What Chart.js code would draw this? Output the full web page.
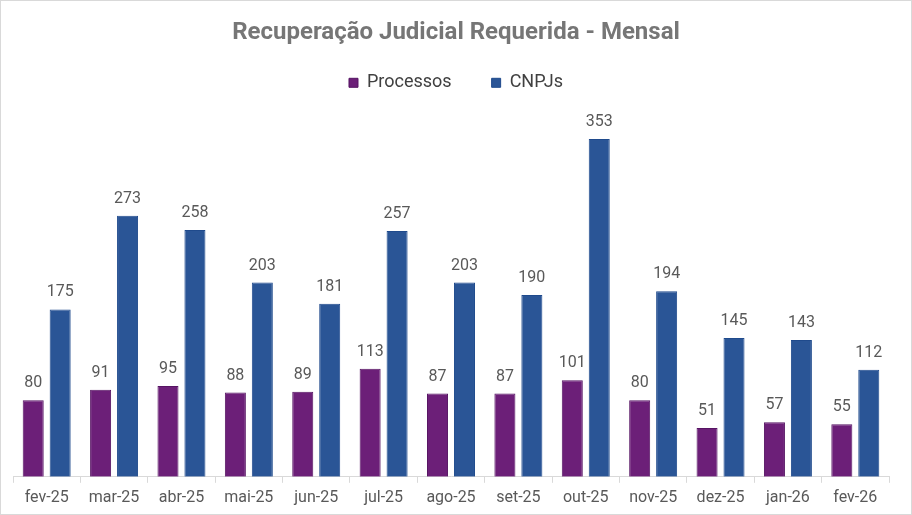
<!DOCTYPE html>
<html>
<head>
<meta charset="utf-8">
<script src="https://cdn.jsdelivr.net/npm/chart.js@4.4.1/dist/chart.umd.min.js"></script>
<style>
  html, body { margin: 0; padding: 0; background: #fff; }
  #wrap { position: relative; width: 910px; height: 513px; border: 1px solid #d9d9d9; }
</style>
</head>
<body>
<div id="wrap"><canvas id="rjChart"></canvas></div>
<script>
const meses = ["fev-25", "mar-25", "abr-25", "mai-25", "jun-25", "jul-25", "ago-25", "set-25", "out-25", "nov-25", "dez-25", "jan-26", "fev-26"]
const processos = [80, 91, 95, 88, 89, 113, 87, 87, 101, 80, 51, 57, 55]
const cnpjs = [175, 273, 258, 203, 181, 257, 203, 190, 353, 194, 145, 143, 112]

// rótulos de valor acima das barras
const valueLabels = {
  id: "valueLabels",
  afterDatasetsDraw(chart) {
    const ctx = chart.ctx
    ctx.save()
    ctx.font = "16px Roboto"
    ctx.fillStyle = "#595959"
    ctx.textAlign = "center"
    ctx.textBaseline = "bottom"
    chart.data.datasets.forEach((ds, i) => {
      chart.getDatasetMeta(i).data.forEach((bar, j) => {
        ctx.fillText(ds.data[j], bar.x, bar.y - 9)
      })
    })
    ctx.restore()
  },
}

new Chart(document.getElementById("rjChart"), {
  type: "bar",
  data: {
    labels: meses,
    datasets: [
      {
        label: "Processos",
        data: processos,
        backgroundColor: "#6c1f78",
        borderColor: "#561463",
        borderWidth: 1,
        borderSkipped: "bottom",
      },
      {
        label: "CNPJs",
        data: cnpjs,
        backgroundColor: "#2a5596",
        borderColor: "#1f4a8c",
        borderWidth: 1,
        borderSkipped: "bottom",
      },
    ],
  },
  options: {
    responsive: true,
    maintainAspectRatio: false,
    animation: false,
    categoryPercentage: 0.8,
    barPercentage: 0.78,
    layout: {
      padding: { left: 12, right: 12, top: 12, bottom: 0 },
    },
    plugins: {
      title: {
        display: true,
        text: "Recuperação Judicial Requerida - Mensal",
        color: "#767676",
        font: { family: "Roboto", size: 24, weight: "bold" },
        padding: { top: 6, bottom: -14 },
      },
      legend: {
        position: "top",
        labels: {
          color: "#404040",
          font: { family: "Roboto", size: 18 },
          boxWidth: 9,
          boxHeight: 9,
          padding: 40,
        },
      },
      tooltip: { enabled: false },
    },
    scales: {
      y: {
        position: "right",
        min: 0,
        max: 392,
        ticks: { display: false },
        grid: { display: false },
        border: { display: false },
        afterFit: (scale) => {
          scale.width = 10
        },
      },
      x: {
        grid: {
          offset: true,
          drawOnChartArea: false,
          drawTicks: true,
          tickLength: 6,
          color: "#d9d9d9",
        },
        border: { color: "#d9d9d9" },
        ticks: {
          color: "#595959",
          font: { family: "Roboto", size: 16 },
          padding: 6,
        },
      },
    },
  },
  plugins: [valueLabels],
})
</script>
</body>
</html>
